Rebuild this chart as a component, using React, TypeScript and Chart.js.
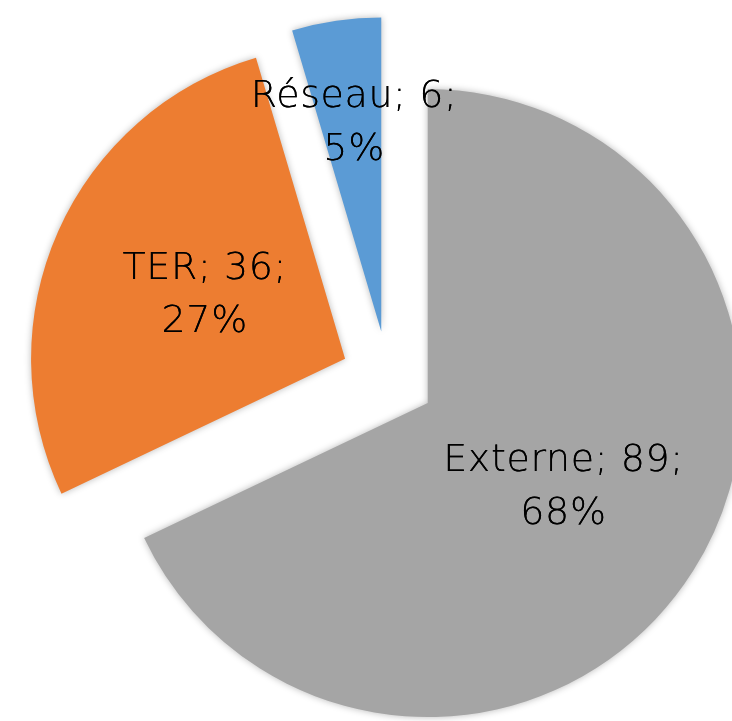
import React, { useEffect, useRef } from "react";
import { Chart, registerables } from "chart.js";

Chart.register(...registerables);

const categories = ["Externe", "TER", "Réseau"];
const values = [89, 36, 6];
const colors = ["#A5A5A5", "#ED7D31", "#5B9BD5"];
const labelRadialFraction = [0.5, 0.5, 0.67];
const EXPLODE = 47;

const W = 732;
const H = 721;

export default function App() {
  const ref = useRef<HTMLCanvasElement>(null);

  useEffect(() => {
    document.body.style.margin = "0";
    document.body.style.background = "#fff";
    const canvas = ref.current;
    if (!canvas) return;
    const total = values.reduce((a, b) => a + b, 0);

    const explodePlugin = {
      id: "explodedSlices",
      beforeDatasetsDraw(chart: any) {
        const ctx = chart.ctx;
        const meta = chart.getDatasetMeta(0);
        ctx.save();
        ctx.shadowColor = "rgba(0,0,0,0.28)";
        ctx.shadowBlur = 7;
        ctx.shadowOffsetX = 0;
        ctx.shadowOffsetY = 0;
        meta.data.forEach((arc: any) => {
          const p = arc.getProps(["startAngle", "endAngle"], true);
          const mid = (p.startAngle + p.endAngle) / 2;
          ctx.save();
          ctx.translate(Math.cos(mid) * EXPLODE, Math.sin(mid) * EXPLODE);
          arc.draw(ctx, chart.chartArea);
          ctx.restore();
        });
        ctx.restore();
        return false;
      },
    };

    const labelPlugin = {
      id: "sliceLabels",
      afterDraw(chart: any) {
        const ctx = chart.ctx;
        const meta = chart.getDatasetMeta(0);
        ctx.save();
        ctx.font = '200 38px "DejaVu Sans"';
        (ctx as any).letterSpacing = "0.6px";
        ctx.fillStyle = "#000";
        ctx.textAlign = "center";
        ctx.textBaseline = "middle";
        meta.data.forEach((arc: any, i: number) => {
          const p = arc.getProps(
            ["x", "y", "startAngle", "endAngle", "outerRadius"],
            true
          );
          const mid = (p.startAngle + p.endAngle) / 2;
          const r = p.outerRadius * labelRadialFraction[i];
          const cx = p.x + Math.cos(mid) * (EXPLODE + r);
          const cy = p.y + Math.sin(mid) * (EXPLODE + r);
          const pct = Math.round((values[i] / total) * 100);
          // draw twice for slightly darker strokes
          for (let k = 0; k < 2; k++) {
            ctx.fillText(`${categories[i]}; ${values[i]};`, cx + 3, cy - 26);
            ctx.fillText(`${pct}%`, cx + 3, cy + 27);
          }
        });
        ctx.restore();
      },
    };

    const chart = new Chart(canvas, {
      type: "pie",
      data: {
        labels: categories,
        datasets: [
          {
            data: values,
            backgroundColor: colors,
            borderWidth: 0,
            offset: 0,
            hoverOffset: 0,
            clip: false,
          } as any,
        ],
      },
      options: {
        animation: false,
        responsive: false,
        radius: 314,
        layout: { padding: { left: 44, top: 35, right: 0, bottom: 0 } },
        plugins: {
          legend: { display: false },
          tooltip: { enabled: false },
        },
        events: [],
      } as any,
      plugins: [explodePlugin, labelPlugin],
    });
    return () => chart.destroy();
  }, []);

  return (
    <div style={{ width: W, height: H, overflow: "hidden", background: "#fff" }}>
      <canvas ref={ref} width={W} height={H} style={{ display: "block" }} />
    </div>
  );
}
